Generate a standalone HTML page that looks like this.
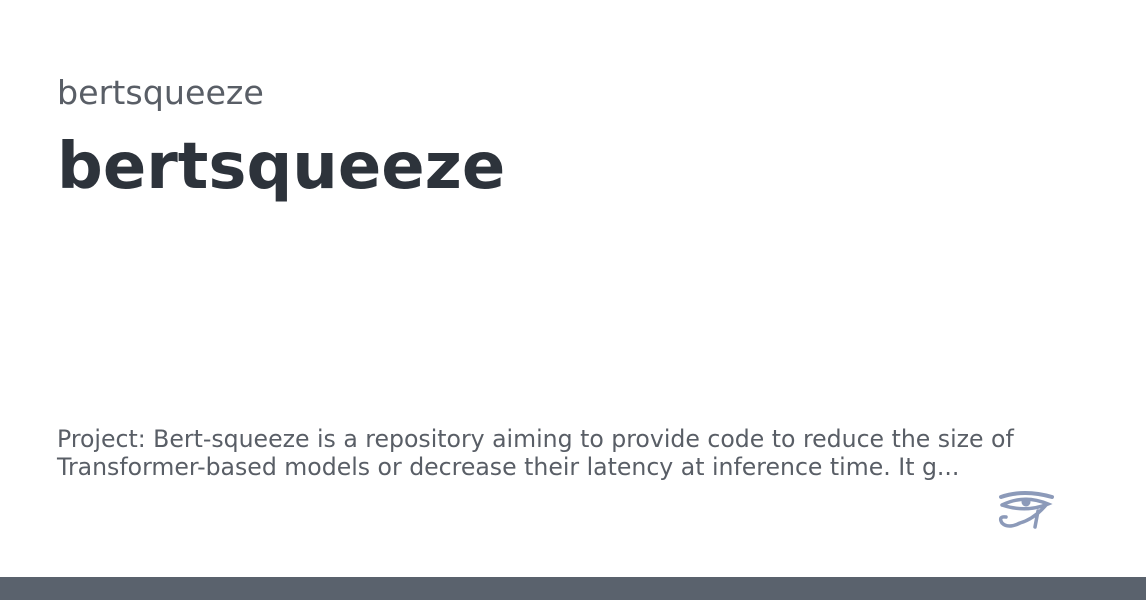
<!DOCTYPE html>
<html><head><style>
body{margin:0;width:1146px;height:600px;background:#fff;position:relative;overflow:hidden;font-family:"DejaVu Sans",sans-serif}
.a{position:absolute;left:57px;white-space:nowrap}
</style></head><body>
<div class="a" style="top:73px;font-size:33.3px;color:#595e66;line-height:40px">bertsqueeze</div>
<div class="a" style="top:129px;left:57px;font-size:64px;font-weight:bold;color:#2d333b;line-height:76px">bertsqueeze</div>
<div class="a" style="top:425px;font-size:23.6px;color:#595e66;line-height:28px">Project: Bert-squeeze is a repository aiming to provide code to reduce the size of<br>Transformer-based models or decrease their latency at inference time. It g...</div>
<svg style="position:absolute;left:996px;top:489px" width="60" height="42" viewBox="0 0 60 42">
<g fill="none" stroke="#8c9ab9" stroke-linecap="round">
<path d="M5 8 Q28 0 56 8" stroke-width="4"/>
<path d="M6 16 Q28 5 52 15 Q30 24 6 16" stroke-width="3.5"/>
<path d="M50 16 Q38 30 24 34 Q12 40 6 34 Q2 27 10 28" stroke-width="3.5"/>
<path d="M42 22 L39 38" stroke-width="3.5"/>
</g>
<circle cx="30" cy="13" r="4.5" fill="#8c9ab9"/>
</svg>
<div style="position:absolute;left:0;top:577px;width:1146px;height:23px;background:#5a626d"></div>
</body></html>
